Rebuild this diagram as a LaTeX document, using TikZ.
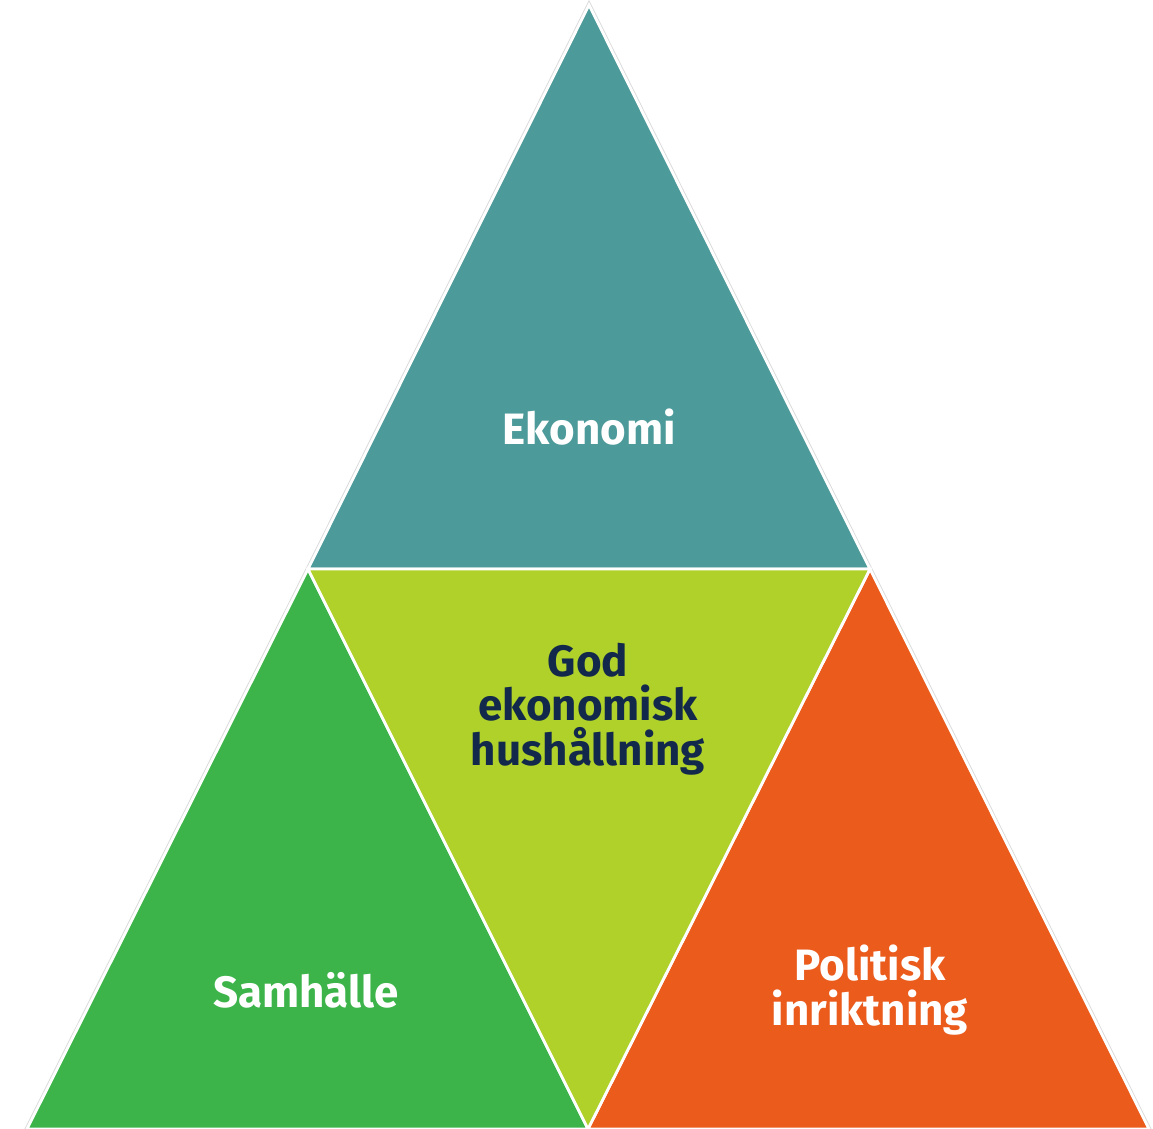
\documentclass[tikz,border=0pt]{standalone}
\usepackage{fontspec}
\setmainfont{Fira Sans}
\definecolor{teal}{HTML}{4D9A9A}
\definecolor{lime}{HTML}{AFD12A}
\definecolor{grass}{HTML}{3CB44A}
\definecolor{orange}{HTML}{EA5B1C}
\definecolor{navy}{HTML}{13294B}
\begin{document}
\begin{tikzpicture}[x=0.02cm,y=-0.02cm,
    piece/.style={draw=white, line width=1.6pt, line join=miter},
    label/.style={align=center, font=\fontsize{25}{25.5}\selectfont\bfseries, inner sep=0pt}]
          \useasboundingbox (0,0) rectangle (1153,1129);
          \coordinate (top) at (589,5);
          \coordinate (ml) at (308,569);
          \coordinate (mr) at (870,569);
          \coordinate (bl) at (27,1129);
          \coordinate (bm) at (588,1129);
          \coordinate (br) at (1149,1129);
          % the four triangles
          \draw [gray!30, line width=2.6pt] (top) -- (ml) -- (bl) -- (br) -- (mr) -- cycle;
          \draw [piece, fill=teal] (top) -- (ml) -- (mr) -- cycle;
          \draw [piece, fill=grass] (ml) -- (bl) -- (bm) -- cycle;
          \draw [piece, fill=orange] (mr) -- (bm) -- (br) -- cycle;
          \draw [piece, fill=lime] (ml) -- (mr) -- (bm) -- cycle;
          % labels
          \node [label, white] (ekonomi) at (589,427) {Ekonomi};
          \node [label, navy] (mitt) at (588,709) {God\\ekonomisk\\hushållning};
          \node [label, white] (samhalle) at (306,990) {Samhälle};
          \node [label, white] (politisk) at (870,990) {Politisk\\inriktning};
        \end{tikzpicture}
\end{document}
